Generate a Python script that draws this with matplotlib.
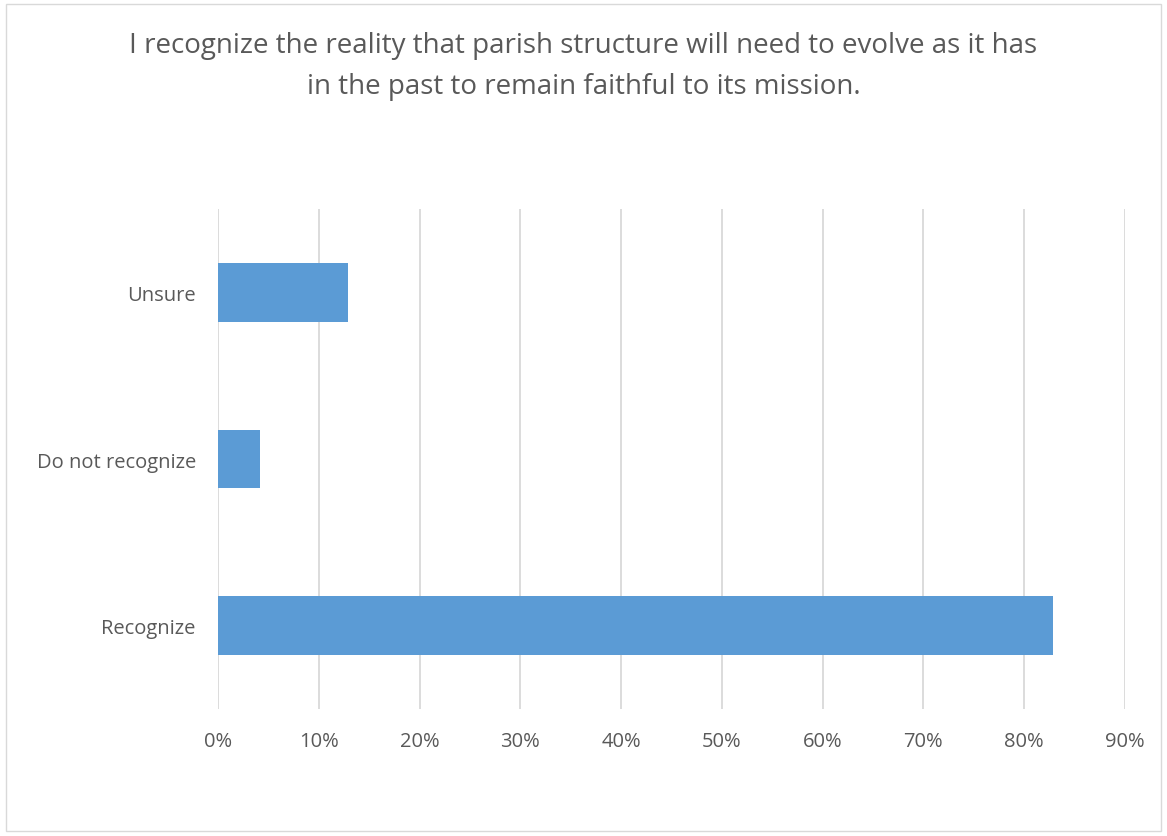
import matplotlib.pyplot as plt
from matplotlib.patches import Rectangle

categories = ['Recognize', 'Do not recognize', 'Unsure']
values = [82.9, 4.2, 12.9]
ticks = [0, 10, 20, 30, 40, 50, 60, 70, 80, 90]
title = ('I recognize the reality that parish structure will need to evolve as it has\n'
         'in the past to remain faithful to its mission.')

plt.rcParams['font.family'] = ['Open Sans', 'DejaVu Sans']

fig = plt.figure(figsize=(11.67, 8.37), dpi=100)
ax = fig.add_axes([0.1868, 0.152, 0.7772, 0.5968])

ax.barh(range(len(categories)), values, height=0.35, color='#5b9bd5', zorder=3)

ax.set_xlim(0, 90)
ax.set_ylim(-0.5, 2.5)
ax.set_xticks(ticks)
ax.set_xticklabels([f'{t}%' for t in ticks])
ax.set_yticks(range(len(categories)))
ax.set_yticklabels(categories)
ax.tick_params(length=0, labelsize=14.5, colors='#595959')
ax.tick_params(axis='x', pad=16)
ax.tick_params(axis='y', pad=16)
ax.grid(axis='x', color='#d9d9d9', linewidth=1.3, zorder=0)
for s in ax.spines.values():
    s.set_visible(False)

fig.text(0.5, 0.92, title, ha='center', va='center', fontsize=20,
         color='#595959', linespacing=1.62)

fig.patches.append(Rectangle((0.005, 0.006), 0.99, 0.988, transform=fig.transFigure,
                             fill=False, edgecolor='#d9d9d9', linewidth=1))

fig.savefig('out.png', dpi=100)
